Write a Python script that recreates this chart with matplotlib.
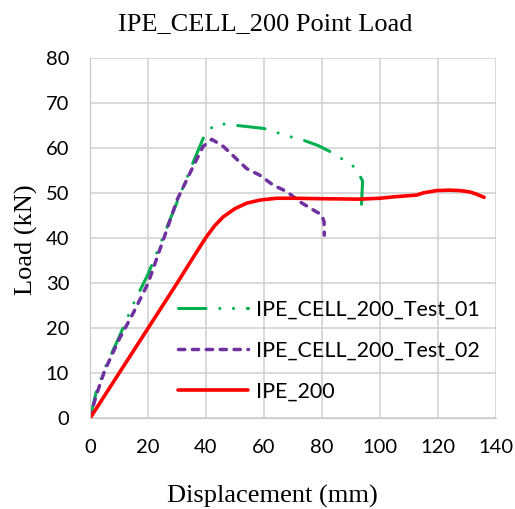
import matplotlib
matplotlib.use("Agg")
import matplotlib.pyplot as plt

# Data
test01_x = [0, 2, 5, 10, 15, 20, 25, 30, 35, 40, 44, 49, 54.5, 60, 63.5, 68.4, 73.6, 78.7, 83, 87, 91.7, 94, 93.8, 93.6]
test01_y = [0, 5.5, 11, 18, 25.5, 32, 40, 48, 56, 63.7, 65.5, 65.2, 64.8, 64.4, 63.7, 62.7, 61.8, 60.6, 59.2, 57.6, 55.6, 52.7, 50, 47.4]

test02_x = [0, 2, 5, 10, 15, 20, 26, 30, 35.6, 39, 42, 46, 54, 58.6, 63.2, 67.8, 72.4, 77, 79.9, 80.7, 80.8]
test02_y = [0, 4.8, 10.5, 17.5, 23.5, 30, 41, 48.5, 56, 60.4, 62, 60.4, 55.5, 54, 51.8, 50.4, 48.1, 46.3, 45.2, 43.7, 40.7]

ipe_x = [0, 10, 20, 30, 37, 40, 43, 46, 50, 54, 58.6, 64.4, 70, 80, 93, 100, 104.6, 112.6, 115, 119.5, 124, 127.6, 131, 133.3, 135.9]
ipe_y = [0, 10, 20, 30, 37.2, 40.2, 42.8, 44.8, 46.6, 47.8, 48.5, 48.9, 48.9, 48.8, 48.7, 48.9, 49.2, 49.6, 50.1, 50.6, 50.7, 50.6, 50.3, 49.8, 49.1]

labels = ["IPE_CELL_200_Test_01", "IPE_CELL_200_Test_02", "IPE_200"]
title = "IPE_CELL_200 Point Load"
xlabel = "Displacement (mm)"
ylabel = "Load (kN)"
xticks = [0, 20, 40, 60, 80, 100, 120, 140]
yticks = [0, 10, 20, 30, 40, 50, 60, 70, 80]

fig = plt.figure(figsize=(5.15, 5.09), dpi=100)
ax = fig.add_axes([90/515, 1-418.3/509, 406/515, 360/509])

green = "#00b050"
purple = "#7030a0"
red = "#ff0000"

ax.plot(test01_x, test01_y, color=green, lw=2.2,
        linestyle=(0, (9, 4.5, 0.01, 4.5, 0.01, 4.5)), dash_capstyle="round",
        solid_capstyle="round", label=labels[0])
ax.plot(test02_x, test02_y, color=purple, lw=2.5,
        linestyle=(0, (1.8, 2.2)), dash_capstyle="round", label=labels[1])
ax.plot(ipe_x, ipe_y, color=red, lw=2.6, solid_capstyle="round",
        solid_joinstyle="round", label=labels[2])

ax.set_xlim(0, 140)
ax.set_ylim(0, 80)
ax.set_xticks(xticks)
ax.set_yticks(yticks)
ax.grid(True, color="#d0d0d0", lw=1.1)
ax.set_axisbelow(True)
for s in ax.spines.values():
    s.set_visible(False)
ax.spines["left"].set_visible(True)
ax.spines["left"].set_color("#c8c8c8")
ax.spines["bottom"].set_visible(True)
ax.spines["bottom"].set_color("#c8c8c8")
ax.tick_params(length=0, labelsize=14.5, pad=15)
for lab in ax.get_xticklabels() + ax.get_yticklabels():
    lab.set_fontfamily("Lato")

serif = "Liberation Serif"
fig.text(265/515, 1-24/509, title, ha="center", va="center",
         fontsize=19, family=serif)
fig.text(272/515, 1-496/509, xlabel, ha="center", va="center",
         fontsize=19, family=serif)
fig.text(26/515, 1-240/509, ylabel, ha="center", va="center",
         fontsize=19, family=serif, rotation=90)

leg = ax.legend(loc="upper left", bbox_to_anchor=(178/515, 1-300/509),
                bbox_transform=fig.transFigure, frameon=False,
                prop={"family": "Lato", "size": 15.5},
                handlelength=3.26, handletextpad=0.37, labelspacing=0.97,
                borderaxespad=0, borderpad=0)

fig.savefig("out.png", dpi=100)
